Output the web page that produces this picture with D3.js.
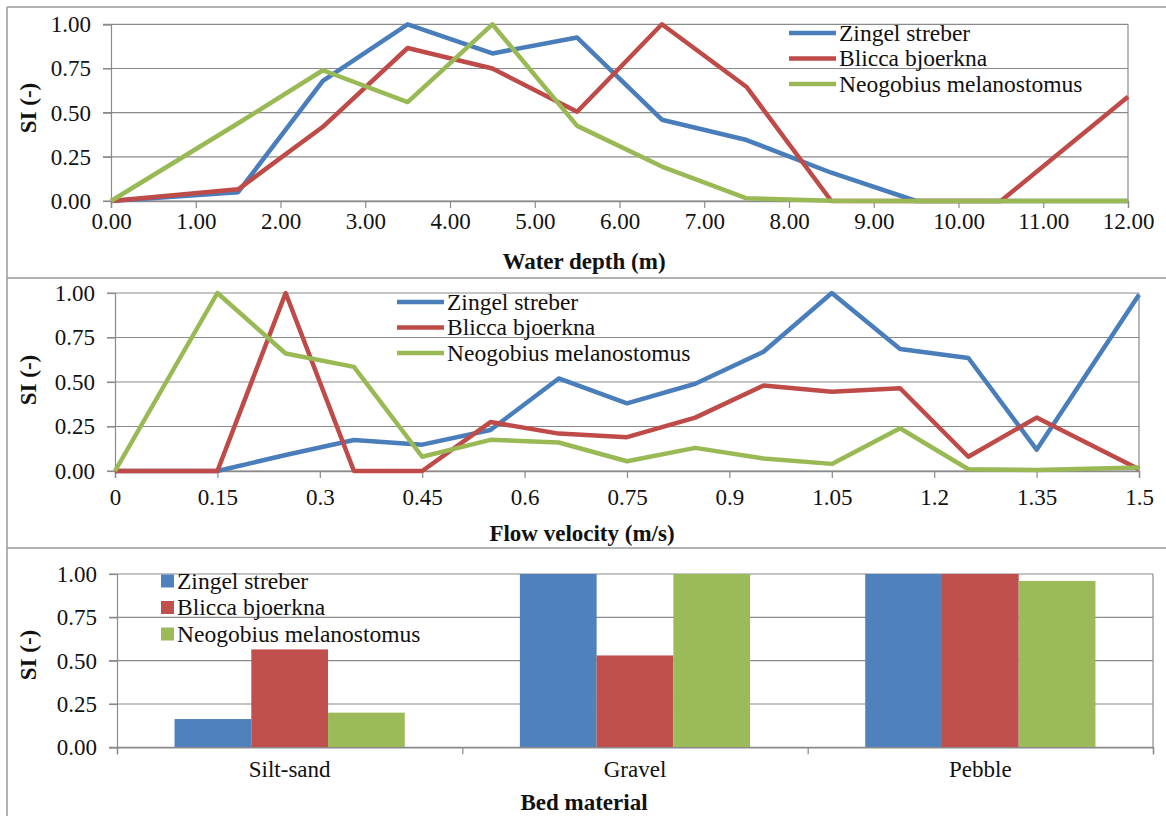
<!DOCTYPE html>
<html><head><meta charset="utf-8">
<script src="https://cdn.jsdelivr.net/npm/d3@7"></script>
<style>html,body{margin:0;padding:0;background:#fff;}svg{display:block;}</style>
</head><body>
<script>
// ---- data ----
const species = ["Zingel streber", "Blicca bjoerkna", "Neogobius melanostomus"];
const yTicks = [0, 0.25, 0.5, 0.75, 1];

const depthX = [0, 1.5, 2.5, 3.5, 4.5, 5.5, 6.5, 7.5, 8.5, 9.5, 10.5, 12];
const depthZingel = [0, 0.05, 0.68, 1.0, 0.835, 0.925, 0.46, 0.345, 0.16, 0, 0, 0];
const depthBlicca = [0, 0.066, 0.42, 0.866, 0.75, 0.505, 1.0, 0.645, 0, 0, 0, 0.59];
const depthNeogobius = [0, 0.44, 0.74, 0.56, 1.0, 0.425, 0.195, 0.015, 0.002, 0, 0, 0];
const depthTicks = [0,1,2,3,4,5,6,7,8,9,10,11,12];

const velX = [0, 0.15, 0.25, 0.35, 0.45, 0.55, 0.65, 0.75, 0.85, 0.95, 1.05, 1.15, 1.25, 1.35, 1.5];
const velZingel = [0, 0, 0.09, 0.174, 0.148, 0.23, 0.52, 0.38, 0.49, 0.67, 1.0, 0.685, 0.635, 0.12, 0.99];
const velBlicca = [0, 0, 1.0, 0, 0, 0.275, 0.21, 0.19, 0.30, 0.48, 0.445, 0.465, 0.08, 0.30, 0.01];
const velNeogobius = [0, 1.0, 0.66, 0.585, 0.08, 0.175, 0.16, 0.055, 0.13, 0.07, 0.04, 0.24, 0.01, 0.005, 0.02];
const velTicks = [0, 0.15, 0.3, 0.45, 0.6, 0.75, 0.9, 1.05, 1.2, 1.35, 1.5];
const velTickLabels = ["0", "0.15", "0.3", "0.45", "0.6", "0.75", "0.9", "1.05", "1.2", "1.35", "1.5"];

const materials = ["Silt-sand", "Gravel", "Pebble"];
const bedZingel = [0.163, 1.0, 1.0];
const bedBlicca = [0.565, 0.53, 1.0];
const bedNeogobius = [0.2, 1.0, 0.96];

// ---- style ----
const lineColors = ["#4A7EBB", "#BE4B48", "#98B954"];
const barColors = ["#4F81BD", "#C0504D", "#9BBB59"];
const GRID = "#8a8a8a";
const FONT = "Liberation Serif, DejaVu Serif";
const FS = 23;

const W = 1166, H = 816;
const svg = d3.select("body").append("svg").attr("width", W).attr("height", H)
  .attr("font-family", FONT);

// panel frames
const frame = svg.append("g").attr("stroke", "#9a9a9a").attr("stroke-width", 1.5).attr("fill", "none");
[7, 278, 548].forEach(y => frame.append("line").attr("x1", 7).attr("x2", W).attr("y1", y).attr("y2", y));
frame.append("line").attr("x1", 7).attr("x2", 7).attr("y1", 7).attr("y2", H);

function yAxisPanel(g, y, x0, x1, titleY) {
  g.append("g").selectAll("line").data(yTicks).join("line")
    .attr("x1", x0 - 8).attr("x2", x1).attr("y1", d => y(d)).attr("y2", d => y(d))
    .attr("stroke", GRID).attr("stroke-width", 1.2);
  g.append("line").attr("x1", x1).attr("x2", x1).attr("y1", y(1)).attr("y2", y(0))
    .attr("stroke", GRID).attr("stroke-width", 1.2);
  const ax = g.append("g").attr("transform", `translate(${x0},0)`)
    .call(d3.axisLeft(y).tickValues(yTicks).tickFormat(d3.format(".2f")).tickSize(8).tickPadding(12));
  ax.attr("font-family", FONT);
  ax.select(".domain").attr("stroke", GRID).attr("stroke-width", 1.2);
  ax.selectAll(".tick line").attr("stroke", GRID).attr("stroke-width", 1.2);
  ax.selectAll(".tick text").attr("font-size", FS).attr("fill", "#111");
  g.append("text").attr("transform", `translate(36,${titleY}) rotate(-90)`)
    .attr("text-anchor", "middle").attr("font-size", FS).attr("font-weight", "bold").attr("fill", "#111")
    .text("SI (-)");
}

function xAxisBottom(g, scale, yPos, ticks, labels, tickSize, pad) {
  const axis = d3.axisBottom(scale).tickValues(ticks).tickSize(tickSize).tickPadding(pad);
  if (labels) axis.tickFormat((d, i) => labels[i]);
  const ax = g.append("g").attr("transform", `translate(0,${yPos})`).call(axis);
  ax.attr("font-family", FONT);
  ax.select(".domain").attr("stroke", GRID).attr("stroke-width", 1.4);
  ax.selectAll(".tick line").attr("stroke", GRID).attr("stroke-width", 1.2);
  ax.selectAll(".tick text").attr("font-size", FS).attr("fill", "#111");
  return ax;
}

function lineLegend(g, x, y0, dy) {
  species.forEach((s, i) => {
    const yy = y0 + i * dy;
    g.append("line").attr("x1", x).attr("x2", x + 47).attr("y1", yy).attr("y2", yy)
      .attr("stroke", lineColors[i]).attr("stroke-width", 4.5);
    g.append("text").attr("x", x + 50).attr("y", yy).attr("dy", "0.33em")
      .attr("font-size", 23.5).attr("fill", "#111").text(s);
  });
}

// ---- panel 1: water depth ----
{
  const g = svg.append("g");
  const x = d3.scaleLinear().domain([0, 12]).range([111, 1128]);
  const y = d3.scaleLinear().domain([0, 1]).range([201, 24.3]);
  yAxisPanel(g, y, 111, 1128, 108);
  xAxisBottom(g, x, 201, depthTicks, depthTicks.map(d => d3.format(".2f")(d)), 7, 5);
  const series = [depthZingel, depthBlicca, depthNeogobius];
  const line = d3.line().x((d, i) => x(depthX[i])).y(d => y(d));
  series.forEach((s, i) => g.append("path").datum(s).attr("d", line)
    .attr("fill", "none").attr("stroke", lineColors[i]).attr("stroke-width", 4.5).attr("stroke-linejoin", "round"));
  lineLegend(g, 789, 33, 25.5);
  g.append("text").attr("x", 584).attr("y", 269).attr("text-anchor", "middle")
    .attr("font-size", FS).attr("font-weight", "bold").attr("fill", "#111").text("Water depth (m)");
}

// ---- panel 2: flow velocity ----
{
  const g = svg.append("g");
  const x = d3.scaleLinear().domain([0, 1.5]).range([115, 1139]);
  const y = d3.scaleLinear().domain([0, 1]).range([471, 293]);
  yAxisPanel(g, y, 115, 1139, 380);
  xAxisBottom(g, x, 471, velTicks, velTickLabels, 7, 11);
  const series = [velZingel, velBlicca, velNeogobius];
  const line = d3.line().x((d, i) => x(velX[i])).y(d => y(d));
  series.forEach((s, i) => g.append("path").datum(s).attr("d", line)
    .attr("fill", "none").attr("stroke", lineColors[i]).attr("stroke-width", 4.5).attr("stroke-linejoin", "round"));
  lineLegend(g, 397, 302, 25.5);
  g.append("text").attr("x", 582).attr("y", 541).attr("text-anchor", "middle")
    .attr("font-size", FS).attr("font-weight", "bold").attr("fill", "#111").text("Flow velocity (m/s)");
}

// ---- panel 3: bed material ----
{
  const g = svg.append("g");
  const x0 = 117, x1 = 1153;
  const xb = d3.scaleBand().domain(materials).range([x0, x1]).paddingInner(0).paddingOuter(0);
  const xs = d3.scaleBand().domain(species).range([0, xb.bandwidth()]).paddingOuter(0.75).paddingInner(0);
  const y = d3.scaleLinear().domain([0, 1]).range([747.3, 574]);
  yAxisPanel(g, y, x0, x1, 655);
  const series = [bedZingel, bedBlicca, bedNeogobius];
  species.forEach((s, si) => {
    g.append("g").selectAll("rect").data(materials).join("rect")
      .attr("x", m => xb(m) + xs(s)).attr("width", xs.bandwidth())
      .attr("y", (m, mi) => y(series[si][mi])).attr("height", (m, mi) => y(0) - y(series[si][mi]))
      .attr("fill", barColors[si]);
  });
  const bx = d3.scaleLinear().domain([0, 3]).range([x0, x1]);
  const ax = g.append("g").attr("transform", `translate(0,${y(0)})`)
    .call(d3.axisBottom(bx).tickValues([0, 1, 2, 3]).tickFormat("").tickSize(7));
  ax.select(".domain").attr("stroke", GRID).attr("stroke-width", 1.4);
  ax.selectAll(".tick line").attr("stroke", GRID).attr("stroke-width", 1.2);
  g.append("g").selectAll("text").data(materials).join("text")
    .attr("x", m => xb(m) + xb.bandwidth() / 2).attr("y", 777)
    .attr("text-anchor", "middle").attr("font-size", FS).attr("fill", "#111").text(m => m);
  species.forEach((s, i) => {
    const yy = 581 + i * 26.5;
    g.append("rect").attr("x", 161).attr("y", yy - 6.5).attr("width", 13).attr("height", 13).attr("fill", barColors[i]);
    g.append("text").attr("x", 177).attr("y", yy).attr("dy", "0.33em")
      .attr("font-size", 23.5).attr("fill", "#111").text(s);
  });
  g.append("text").attr("x", 584).attr("y", 810).attr("text-anchor", "middle")
    .attr("font-size", FS).attr("font-weight", "bold").attr("fill", "#111").text("Bed material");
}
</script>
</body></html>
